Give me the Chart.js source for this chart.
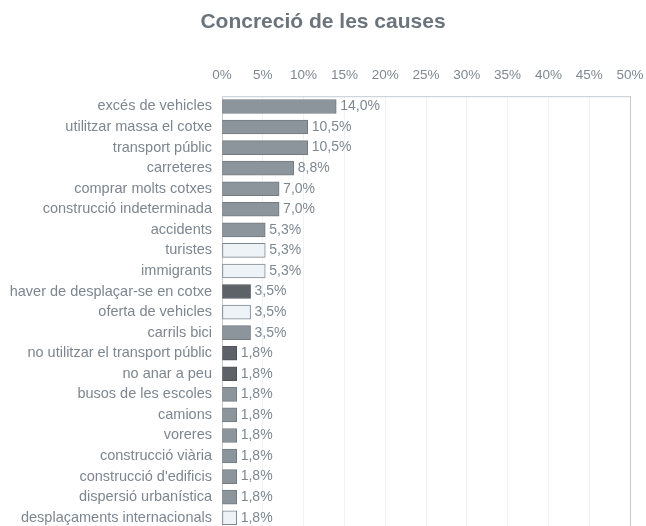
<!DOCTYPE html>
<html>
<head>
<meta charset="utf-8">
<script src="https://cdn.jsdelivr.net/npm/chart.js@4/dist/chart.umd.min.js"></script>
<style>
  html, body { margin: 0; padding: 0; background: #fff; overflow: hidden; }
  #wrap { width: 646px; height: 528px; }
</style>
</head>
<body>
<div id="wrap"><canvas id="bar-chartcanvas"></canvas></div>
<script>
// categories (top to bottom)
var causes = [
  "excés de vehicles",
  "utilitzar massa el cotxe",
  "transport públic",
  "carreteres",
  "comprar molts cotxes",
  "construcció indeterminada",
  "accidents",
  "turistes",
  "immigrants",
  "haver de desplaçar-se en cotxe",
  "oferta de vehicles",
  "carrils bici",
  "no utilitzar el transport públic",
  "no anar a peu",
  "busos de les escoles",
  "camions",
  "voreres",
  "construcció viària",
  "construcció d'edificis",
  "dispersió urbanística",
  "desplaçaments internacionals"
];

// percentages
var percents = [14.0, 10.5, 10.5, 8.8, 7.0, 7.0, 5.3, 5.3, 5.3, 3.5, 3.5, 3.5,
  1.8, 1.8, 1.8, 1.8, 1.8, 1.8, 1.8, 1.8, 1.8];

// x axis ticks
var tickValues = [0, 5, 10, 15, 20, 25, 30, 35, 40, 45, 50];

//bar styles: m = mid grey, l = light, d = dark
var shade = ["m", "m", "m", "m", "m", "m", "m", "l", "l", "d", "l", "m",
  "d", "d", "m", "m", "m", "m", "m", "m", "l"];
var fills = { m: "#8d959c", l: "#eef3f8", d: "#5c6267" };
var borders = { m: "#737b82", l: "#7f8890", d: "#4e5358" };

Chart.defaults.font.family = "'Liberation Sans', Arial, sans-serif";

// frame round the plot + value labels
var extras = {
  id: "extras",
  beforeDatasetsDraw: function (chart) {
    var a = chart.chartArea, c = chart.ctx;
    c.save();
    c.strokeStyle = "#c3cbd3";
    c.lineWidth = 1;
    c.strokeRect(a.left + 0.5, a.top + 0.5, a.right - a.left, a.bottom - a.top);
    c.restore();
  },
  afterDatasetsDraw: function (chart) {
    var c = chart.ctx;
    var meta = chart.getDatasetMeta(0);
    c.save();
    c.font = "14px 'Liberation Sans', Arial, sans-serif";
    c.fillStyle = "#7e8891";
    c.textBaseline = "middle";
    meta.data.forEach(function (bar, i) {
      c.fillText(percents[i].toFixed(1).replace(".", ",") + "%", bar.x + 4, bar.y);
    });
    c.restore();
  }
};

var ctx = document.getElementById("bar-chartcanvas");

var chart = new Chart(ctx, {
  type: "bar",
  data: {
    labels: causes,
    datasets: [{
      data: percents,
      backgroundColor: shade.map(function (s) { return fills[s]; }),
      borderColor: shade.map(function (s) { return borders[s]; }),
      borderWidth: 1,
      borderSkipped: false,
      barThickness: 14
    }]
  },
  options: {
    indexAxis: "y",
    responsive: true,
    maintainAspectRatio: false,
    animation: false,
    layout: { padding: 0 },
    plugins: {
      legend: { display: false },
      tooltip: { enabled: false },
      title: {
        display: true,
        text: "Concreció de les causes",
        color: "#6b747c",
        font: { size: 21, weight: "bold" },
        padding: { top: 10, bottom: 33 }
      }
    },
    scales: {
      x: {
        position: "top",
        min: 0,
        max: 50,
        afterBuildTicks: function (s) {
          s.ticks = tickValues.map(function (v) { return { value: v }; });
        },
        afterFit: function (s) {
          s.height = 28;
          s.paddingLeft = 0;
          s.paddingRight = 16;
        },
        grid: { color: "#eff1f4", drawTicks: false },
        border: { display: false },
        ticks: {
          color: "#7e8891",
          font: { size: 13.5 },
          padding: 13,
          maxRotation: 0,
          callback: function (v) { return v + "%"; }
        }
      },
      y: {
        afterFit: function (s) {
          s.width = 222;
          s.paddingTop = 0;
          s.paddingBottom = 0;
        },
        grid: { display: false, drawTicks: false },
        border: { display: false },
        ticks: {
          color: "#7d868f",
          font: { size: 14.5 },
          padding: 10,
          autoSkip: false
        }
      }
    }
  },
  plugins: [extras]
});
</script>
</body>
</html>
